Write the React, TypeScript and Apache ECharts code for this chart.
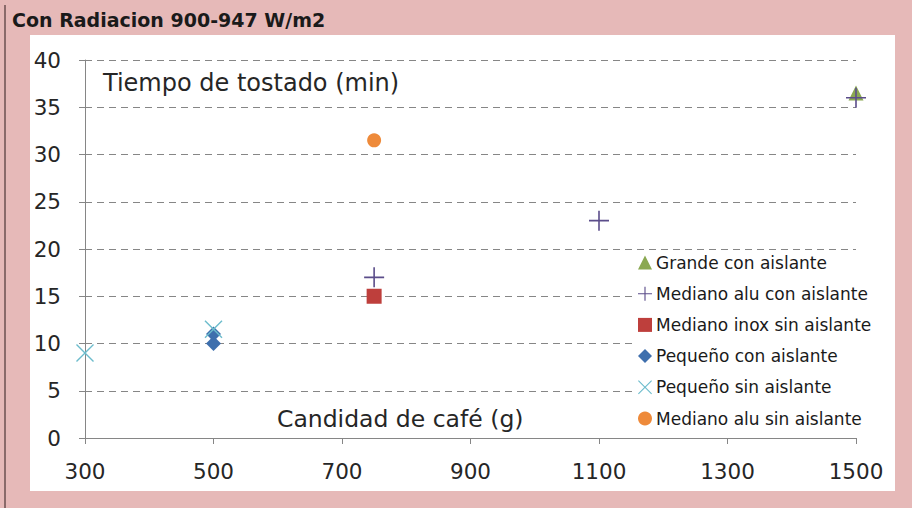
import React, { useEffect, useRef } from "react";
import * as echarts from "echarts";

const TITLE = "Con Radiacion 900-947 W/m2";
const Y_TITLE = "Tiempo de tostado (min)";
const X_TITLE = "Candidad de café (g)";

const seriesNames = [
  "Grande con aislante",
  "Mediano alu con aislante",
  "Mediano inox sin aislante",
  "Pequeño con aislante",
  "Pequeño sin aislante",
  "Mediano alu sin aislante",
];

const grandeConAislante: [number, number][] = [[1500, 36.5]];
const medianoAluConAislante: [number, number][] = [[750, 17], [1100, 23], [1500, 36]];
const medianoInoxSinAislante: [number, number][] = [[750, 15]];
const pequenoConAislante: [number, number][] = [[500, 10], [500, 11]];
const pequenoSinAislante: [number, number][] = [[300, 9], [500, 11.5]];
const medianoAluSinAislante: [number, number][] = [[750, 31.5]];

const seriesData = [
  grandeConAislante,
  medianoAluConAislante,
  medianoInoxSinAislante,
  pequenoConAislante,
  pequenoSinAislante,
  medianoAluSinAislante,
];

const PLUS = "path://M9.2,0h1.6v20h-1.6zM0,9.2h20v1.6h-20z";
const CROSS = "path://M0,1.1L1.1,0L10,8.9L18.9,0L20,1.1L11.1,10L20,18.9L18.9,20L10,11.1L1.1,20L0,18.9L8.9,10Z";

const colors = ["#8aa851", "#5b4d8a", "#be3f3c", "#3e6fad", "#6cbccc", "#ee8a3a"];
const symbols = ["triangle", PLUS, "rect", "diamond", CROSS, "circle"];
const sizes = [15, 20, 15, 15, 18, 14];

export default function App() {
  const ref = useRef<HTMLDivElement>(null);
  useEffect(() => {
    const chart = echarts.init(ref.current!, undefined, { renderer: "svg" });
    const font = "'DejaVu Sans', sans-serif";
    chart.setOption({
      animation: false,
      backgroundColor: "#e6b9b8",
      textStyle: { fontFamily: font },
      grid: { left: 85, right: 56, top: 60, bottom: 70 },
      graphic: [
        { type: "rect", silent: true, z: -10, shape: { x: 30, y: 35, width: 865, height: 456 }, style: { fill: "#ffffff" } },
        { type: "line", silent: true, shape: { x1: 5, y1: 5, x2: 5, y2: 508 }, style: { stroke: "#8a6a6a", lineWidth: 2 } },
        { type: "text", left: 12, top: 10, style: { text: TITLE, font: `bold 19px ${font}`, fill: "#1a1a1a" } },
        { type: "text", left: 103, top: 71, style: { text: Y_TITLE, font: `24px ${font}`, fill: "#262626" } },
        { type: "text", left: 277, top: 407, style: { text: X_TITLE, font: `23.5px ${font}`, fill: "#262626" } },
      ],
      legend: {
        orient: "vertical",
        left: 634,
        top: 251,
        padding: [3, 4, 3, 4],
        backgroundColor: "#ffffff",
        itemWidth: 14,
        itemHeight: 14,
        itemGap: 14.2,
        textStyle: { fontSize: 17, color: "#1a1a1a", fontFamily: font, padding: [0, 0, 0, -1] },
        data: seriesNames.map((n, i) => ({ name: n, icon: symbols[i], itemStyle: { color: colors[i] } })),
      },
      xAxis: {
        type: "value",
        min: 300,
        max: 1500,
        interval: 200,
        axisLine: { show: true, lineStyle: { color: "#868686" } },
        axisTick: { show: true, length: 6, lineStyle: { color: "#868686" } },
        axisLabel: { fontSize: 21.5, color: "#262626", margin: 22, formatter: (v: number) => String(v) },
        splitLine: { show: false },
      },
      yAxis: {
        type: "value",
        min: 0,
        max: 40,
        interval: 5,
        axisLine: { show: true, lineStyle: { color: "#868686" } },
        axisTick: { show: true, length: 6, lineStyle: { color: "#868686" } },
        axisLabel: { fontSize: 21.5, color: "#262626", margin: 24 },
        splitLine: { show: true, lineStyle: { color: "#868686", type: [7, 5], width: 1 } },
      },
      series: seriesNames.map((n, i) => ({
        name: n,
        type: "scatter",
        data: seriesData[i],
        symbol: symbols[i],
        symbolSize: sizes[i],
        itemStyle: { color: colors[i], opacity: 1 },
        z: i === 1 ? 5 : 2,
      })),
    });
    return () => chart.dispose();
  }, []);
  return <div ref={ref} style={{ position: "fixed", left: 0, top: 0, width: 912, height: 508 }} />;
}
